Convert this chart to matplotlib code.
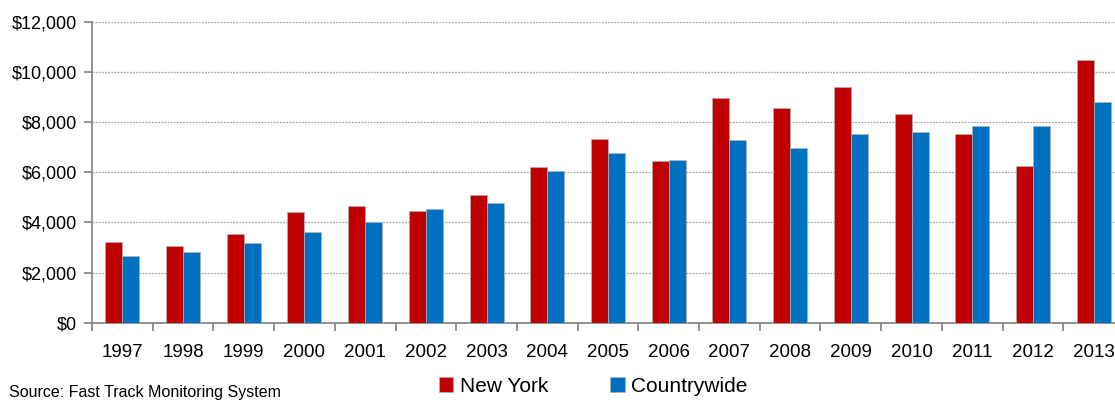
import matplotlib.pyplot as plt
import numpy as np
from matplotlib.ticker import FuncFormatter, FixedLocator

plt.rcParams['font.family'] = ['Liberation Sans', 'DejaVu Sans']

years = ['1997', '1998', '1999', '2000', '2001', '2002', '2003', '2004', '2005',
         '2006', '2007', '2008', '2009', '2010', '2011', '2012', '2013']
new_york = [3230, 3060, 3550, 4420, 4660, 4450, 5090, 6210, 7320,
            6440, 8950, 8560, 9400, 8310, 7540, 6250, 10490]
countrywide = [2670, 2820, 3170, 3610, 4030, 4530, 4770, 6030, 6770,
               6490, 7270, 6950, 7540, 7590, 7830, 7830, 8800]

fig = plt.figure(figsize=(11.15, 4.0), dpi=100)
ax = fig.add_axes([0.0825, 0.193, 0.9256, 0.753])

x = np.arange(len(years))
w = 0.28
ax.bar(x - w/2, new_york, w, color='#C00000', edgecolor='#b0b0b0', linewidth=0.5,
       label='New York', zorder=3)
ax.bar(x + w/2, countrywide, w, color='#0070C0', edgecolor='#b0b0b0', linewidth=0.5,
       label='Countrywide', zorder=3)

ax.set_xlim(-0.5, len(years) - 0.5)
ax.set_ylim(0, 12000)
ax.set_yticks(range(0, 12001, 2000))
ax.yaxis.set_major_formatter(FuncFormatter(lambda v, p: '${:,.0f}'.format(v)))
ax.yaxis.grid(True, color='#a6a6a6', linestyle=(0, (1.5, 1)), linewidth=0.9, zorder=0)

ax.set_xticks(x)
ax.set_xticklabels(years)
ax.xaxis.set_minor_locator(FixedLocator(np.arange(-0.5, len(years), 1.0)))
ax.tick_params(axis='x', which='major', length=0, pad=15, labelsize=13.5)
ax.tick_params(axis='x', which='minor', length=6, color='#808080', width=1.2)
ax.tick_params(axis='y', length=6, color='#808080', width=1.2, labelsize=13, pad=5)

for s in ['top', 'right']:
    ax.spines[s].set_visible(False)
for s in ['left', 'bottom']:
    ax.spines[s].set_color('#808080')
    ax.spines[s].set_linewidth(1.2)

leg = fig.legend(loc='center', bbox_to_anchor=(0.532, 0.035), ncol=2, frameon=False,
                 fontsize=15, handlelength=0.7, handleheight=0.7, handletextpad=0.3,
                 columnspacing=3.0)

fig.text(0.008, 0.0, 'Source: Fast Track Monitoring System', fontsize=11.5,
         va='bottom', ha='left')

fig.savefig('out.png', dpi=100)
